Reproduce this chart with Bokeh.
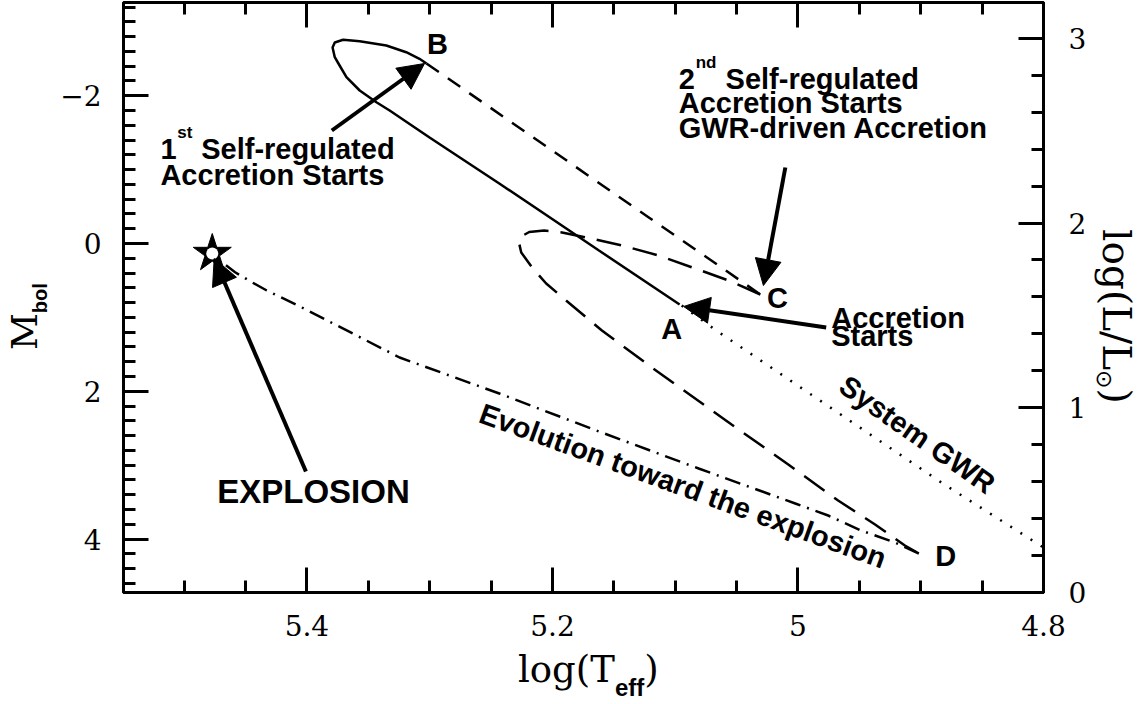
import math
import numpy as np
from bokeh.plotting import figure
from bokeh.models import Range1d, LinearAxis, FixedTicker, Label, Arrow, NormalHead, Div
from bokeh.layouts import row, column
from bokeh.embed import file_html
from bokeh.resources import INLINE

# ---------------- data: log(Teff), M_bol ----------------
# A -> first loop -> B (solid)
t1_logt = [5.0964, 5.1621, 5.2433, 5.3001, 5.3326, 5.3434, 5.3570, 5.3678, 5.3748,
           5.3773, 5.3791, 5.3773, 5.3705, 5.3570, 5.3353, 5.3191, 5.3083, 5.3026]
t1_mbol = [0.8254, 0.0947, -0.8119, -1.4344, -1.7997, -1.9120, -2.0704, -2.2503, -2.4493,
           -2.5210, -2.6522, -2.7199, -2.7564, -2.7375, -2.6793, -2.5886, -2.4993, -2.4357]
# B -> C (short dashes)
t2_logt = [5.3026, 5.2108, 5.1215, 5.0647, 5.0306]
t2_mbol = [-2.4357, -1.3802, -0.3518, 0.2977, 0.6901]
# C -> second loop -> D (long dashes)
t3_logt = [5.0306, 5.0566, 5.0866, 5.1134, 5.1434, 5.1702, 5.1922, 5.2068, 5.2189, 5.2254,
           5.2271, 5.2254, 5.2165, 5.2051, 5.1889, 5.1597, 5.1191, 5.0541, 5.0079, 4.9673,
           4.9372, 4.9129, 4.9015]
t3_mbol = [0.6901, 0.5007, 0.3207, 0.1624, 0.0271, -0.0744, -0.1488, -0.1759, -0.1556, -0.0947,
           0.0000, 0.1218, 0.3248, 0.5413, 0.7713, 1.1773, 1.6779, 2.4493, 2.9905, 3.4777,
           3.8024, 4.0866, 4.1949]
# D -> explosion (dash-dot)
t4_logt = [4.9015, 4.9210, 4.9486, 4.9754, 5.0022, 5.0809, 5.1621, 5.2433, 5.3245, 5.4057,
           5.4327, 5.4449, 5.4585, 5.4690, 5.4763]
t4_mbol = [4.1949, 4.0460, 3.8836, 3.6807, 3.5183, 3.0447, 2.5440, 2.0298, 1.5426, 0.8525,
           0.6360, 0.5237, 0.3884, 0.2571, 0.1624]
# system GWR (dotted)
gwr_logt = [5.0947, 5.0674, 4.8820, 4.8000]
gwr_mbol = [0.8390, 1.1678, 3.2476, 4.1137]
# explosion point
expl_logt = [5.4771]
expl_mbol = [0.1353]

# tick labels
x_ticks = [5.4, 5.2, 5.0, 4.8]
x_tick_labels = ["5.4", "5.2", "5", "4.8"]
y_ticks = [-2, 0, 2, 4]
y_tick_labels = ["\u22122", "0", "2", "4"]
l_ticks = [0, 1, 2, 3]
l_tick_labels = ["0", "1", "2", "3"]

# ---------------- page layout (pixels) ----------------
PAGE_W, PAGE_H = 1140, 702
LEFT_W, RIGHT_W = 53, 51            # side strips for the vertical titles
TOP_H = 647                          # height of the figure row
FL, FR, FT, FB = 123, 1046, 2, 592   # frame box in page pixels
X0, X1 = 5.5494, 4.8
Y0, Y1 = 4.7226, -3.2612
L1 = (Y0 - Y1) / 2.5


def dx(px):
    return X0 + (px - FL) * (X1 - X0) / (FR - FL)


def dy(py):
    return Y1 + (py - FT) * (Y0 - Y1) / (FB - FT)


fig_w = PAGE_W - LEFT_W - RIGHT_W
p = figure(width=fig_w, height=TOP_H, x_range=Range1d(X0, X1), y_range=Range1d(Y0, Y1),
           output_backend="svg", toolbar_location=None,
           min_border_left=FL - LEFT_W, min_border_right=LEFT_W + fig_w - FR,
           min_border_top=FT, min_border_bottom=TOP_H - FB,
           background_fill_color="white", border_fill_color="white", margin=0)
p.extra_y_ranges = {"lum": Range1d(0, L1)}
p.xgrid.visible = False
p.ygrid.visible = False
p.outline_line_color = "black"
p.outline_line_width = 3

x_minor = [round(v, 3) for v in np.arange(4.8, 5.56, 0.05)]
y_minor = [round(v, 2) for v in np.arange(-3.2, 4.7, 0.2)]
l_minor = [round(v, 2) for v in np.arange(0, 3.2, 0.2)]

xb = p.xaxis[0]
yl = p.yaxis[0]
xb.ticker = FixedTicker(ticks=x_ticks, minor_ticks=x_minor)
xb.major_label_overrides = dict(zip(x_ticks, x_tick_labels))
yl.ticker = FixedTicker(ticks=y_ticks, minor_ticks=y_minor)
yl.major_label_overrides = dict(zip(y_ticks, y_tick_labels))

xt = LinearAxis(ticker=FixedTicker(ticks=x_ticks, minor_ticks=x_minor))
xt.major_label_overrides = {t: "" for t in x_ticks}
p.add_layout(xt, "above")
yr = LinearAxis(y_range_name="lum", ticker=FixedTicker(ticks=l_ticks, minor_ticks=l_minor))
yr.major_label_overrides = dict(zip(l_ticks, l_tick_labels))
p.add_layout(yr, "right")

for ax in (xb, yl, xt, yr):
    ax.axis_line_width = 3
    ax.axis_line_color = "black"
    ax.major_tick_in = 25
    ax.major_tick_out = 0
    ax.minor_tick_in = 12
    ax.minor_tick_out = 0
    ax.major_tick_line_width = 3
    ax.minor_tick_line_width = 3
    ax.major_tick_line_color = "black"
    ax.minor_tick_line_color = "black"
    ax.major_label_text_font = "DejaVu Serif"
    ax.major_label_text_font_size = "28px"
    ax.major_label_text_color = "black"
xb.major_label_standoff = 22
yl.major_label_standoff = 22
yr.major_label_standoff = 25
xt.major_label_standoff = 0
xt.major_label_text_font_size = "0px"

# ---------------- curves ----------------
p.line(t1_logt, t1_mbol, line_color="black", line_width=2.5)
p.line(t2_logt, t2_mbol, line_color="black", line_width=2.5, line_dash="15 11")
p.line(t3_logt, t3_mbol, line_color="black", line_width=2.5, line_dash="25 12")
p.line(t4_logt, t4_mbol, line_color="black", line_width=2.5, line_dash="16 7 2 7")
p.line(gwr_logt, gwr_mbol, line_color="black", line_width=2.5, line_dash="2 10")
p.scatter(expl_logt, expl_mbol, marker="star", size=40, fill_color="black", line_color="black")
p.scatter(expl_logt, expl_mbol, marker="circle", size=12, fill_color="white", line_color=None)

# ---------------- arrows ----------------
arrows = [((332, 130), (425, 63)), ((787, 167), (765, 285)),
          ((828, 327), (685, 306)), ((306, 471), (214, 258))]
for (sx, sy), (ex, ey) in arrows:
    p.add_layout(Arrow(end=NormalHead(size=26, fill_color="black", line_color="black"),
                       x_start=dx(sx), y_start=dy(sy), x_end=dx(ex), y_end=dy(ey),
                       line_width=4, line_color="black"))


def lab(text, px, py, size, font="Liberation Sans", style="bold", angle=0, align="left"):
    # shift the anchor "up" (in the text frame) to compensate the baseline placement
    c = 0.34 * size
    a = math.radians(angle)
    px2 = px - c * math.sin(a)
    py2 = py - c * math.cos(a)
    p.add_layout(Label(x=dx(px2), y=dy(py2), text=text, text_font=font,
                       text_font_size=f"{size}px", text_font_style=style, angle=angle,
                       angle_units="deg", text_align=align, text_baseline="alphabetic",
                       text_color="black"))


F = 29
lab("1", 160, 158, F)
lab("st", 177, 138, 17)
lab("Self-regulated", 201, 158, F)
lab("Accretion Starts", 160, 184, F)

lab("2", 680, 88, F)
lab("nd", 697, 68, 17)
lab("Self-regulated", 727, 88, F)
lab("Accretion Starts", 680, 112, F)
lab("GWR-driven Accretion", 680, 137, F)

lab("Accretion", 833, 327, F)
lab("Starts", 833, 345, F)

lab("EXPLOSION", 217, 502, 33)

lab("A", 673, 338, 29, align="center")
lab("B", 438, 53, 29, align="center")
lab("C", 779, 307, 29, align="center")
lab("D", 948, 565, 29, align="center")

lab("System GWR", 839, 390, F, angle=-35)
lab("Evolution toward the explosion", 478, 421, F, angle=-20)

# ---------------- axis titles (HTML strips around the figure) ----------------
BASE = 0.846   # baseline position inside a line box of line-height 1em


def title_html(main, sub, after, bx, by, size, sub_size, sub_drop, sub_font, rot):
    """bx, by: baseline start of the title, local to its strip."""
    if rot == 0:
        left, top = bx, by - BASE * size
    elif rot == -90:
        left, top = bx - BASE * size, by
    else:
        left, top = bx + BASE * size, by
    return (f'<div style="position:absolute;left:{left:.1f}px;top:{top:.1f}px;'
            f"font-family:'DejaVu Serif';font-size:{size}px;line-height:{size}px;"
            f'font-weight:normal;white-space:nowrap;color:black;margin:0;padding:0;'
            f'transform-origin:0 0;transform:rotate({rot}deg);">{main}'
            f"<span style=\"font-family:'{sub_font[0]}';font-weight:{sub_font[1]};"
            f'font-size:{sub_size}px;line-height:0;vertical-align:-{sub_drop}px;">{sub}</span>'
            f'{after}</div>')


def strip(inner, w, h):
    return Div(text=f'<div style="position:relative;width:{w}px;height:{h}px;'
                    f'overflow:visible;margin:0;padding:0;">{inner}</div>',
               width=w, height=h, margin=0)


left_div = strip(title_html("M", "bol", "", 37, 350, 36, 20, 10,
                            ("Liberation Sans", "bold"), -90), LEFT_W, TOP_H)
right_x0 = PAGE_W - RIGHT_W
right_div = strip(title_html("log(L/L", "\u2299", ")", 1103 - right_x0, 229, 39, 22, 6,
                             ("DejaVu Sans", "normal"), 90), RIGHT_W, TOP_H)
bottom_div = strip(title_html("log(T", "eff", ")", 518, 682 - TOP_H, 37, 24, 14,
                              ("Liberation Sans", "bold"), 0), PAGE_W, PAGE_H - TOP_H)

layout = column(row(left_div, p, right_div, spacing=0, margin=0), bottom_div,
                spacing=0, margin=0)

open("out.html", "w").write(file_html(layout, INLINE))
